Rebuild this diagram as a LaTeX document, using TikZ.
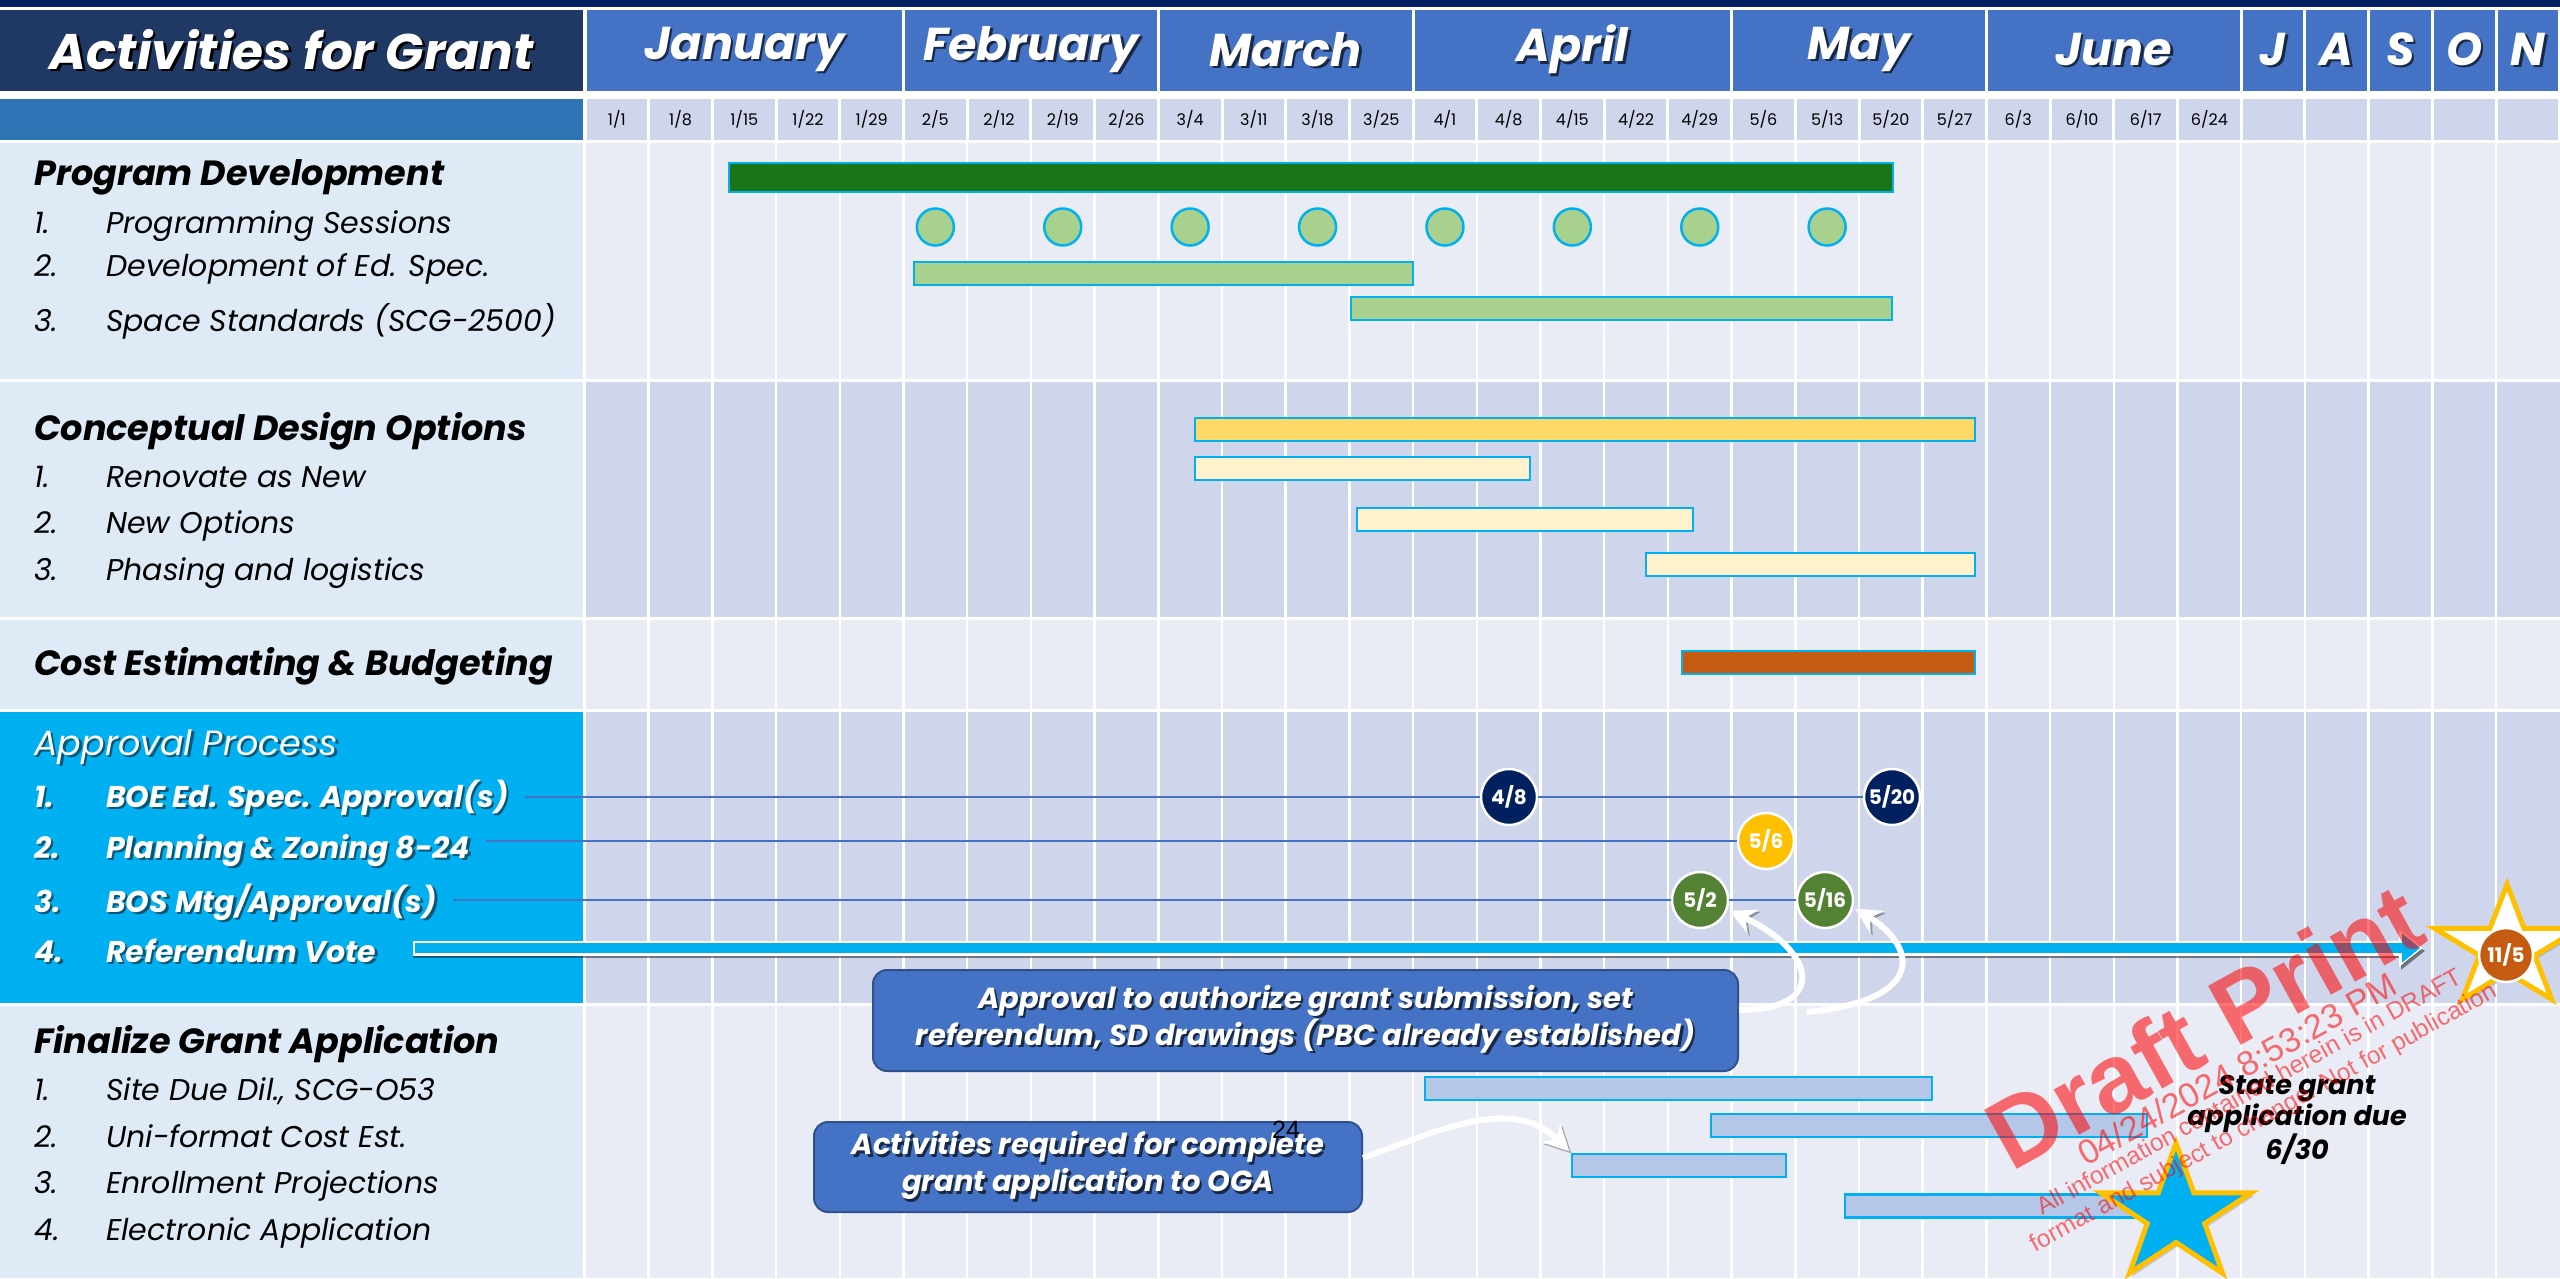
\documentclass[tikz,border=0pt]{standalone}
\usepackage{fontspec}
\setmainfont{Poppins}
\newfontfamily\arialfont{Liberation Sans}
\usepackage{tikz}
\usetikzlibrary{positioning, arrows.meta, shapes.geometric, shadows}
\usepackage{xcolor}
\definecolor{navytop}{HTML}{002060}
\definecolor{titleblue}{HTML}{1F3864}
\definecolor{monthblue}{HTML}{4472C4}
\definecolor{daterow}{HTML}{2E75B6}
\definecolor{cellblue}{HTML}{CFD5EA}
\definecolor{cellpale}{HTML}{E9EBF5}
\definecolor{labelpale}{HTML}{DEEAF6}
\definecolor{approvecyan}{HTML}{00B0F0}
\definecolor{darkgreen}{HTML}{187619}
\definecolor{lightgreen}{HTML}{A9D18E}
\definecolor{goldbar}{HTML}{FFD966}
\definecolor{paleyellow}{HTML}{FFF2CC}
\definecolor{rust}{HTML}{C55A11}
\definecolor{paleblue}{HTML}{B4C7E7}
\definecolor{gold}{HTML}{FFC000}
\definecolor{mtggreen}{HTML}{548235}
\definecolor{callborder}{HTML}{2F528F}
\colorlet{monthshade}{monthblue!35!black}
\colorlet{cyanshade}{approvecyan!50!black}
\newcommand{\setpx}[2]{\fontsize{#1}{#2}\selectfont}
\newcommand{\listno}[1]{\makebox[72pt][l]{#1}}
\newcommand{\shadowed}[2]{\leavevmode\rlap{\hspace{2.5pt}\raisebox{-2.5pt}{\color{#1}#2}}#2}

\begin{document}
\begin{tikzpicture}[x=1pt, y=-1pt, every node/.style={inner sep=0pt}]
  \tikzstyle{titlebox} = [rectangle, fill=titleblue, minimum width=583, minimum height=81, text=white, font=\setpx{50}{60}\bfseries\itshape]
  \tikzstyle{monthbox} = [rectangle, fill=monthblue, minimum height=81, text=white, font=\setpx{46}{55}\bfseries\itshape]
  \tikzstyle{datecell} = [rectangle, fill=cellblue, minimum width=60.7, minimum height=41, font=\setpx{16}{19}]
  \tikzstyle{sechead} = [anchor=base west, font=\setpx{35}{42}\bfseries\itshape]
  \tikzstyle{listitem} = [anchor=base west, font=\setpx{30}{36}\itshape]
  \tikzstyle{approvehead} = [anchor=base west, text=white, font=\setpx{35}{42}\itshape]
  \tikzstyle{approveitem} = [anchor=base west, text=white, font=\setpx{30}{36}\bfseries\itshape]
  \tikzstyle{ganttbar} = [rectangle, draw=approvecyan, line width=2.5pt, minimum height=23]
  \tikzstyle{sessiondot} = [circle, fill=lightgreen, draw=approvecyan, line width=2.5pt, minimum size=37]
  \tikzstyle{milestone} = [circle, draw=white, line width=2.5pt, minimum size=56, text=white, font=\setpx{20}{24}\bfseries]
  \tikzstyle{leadline} = [draw=monthblue, line width=1.5pt, shorten <=16pt]
  \tikzstyle{tieline} = [draw=monthblue, line width=1.5pt]
  \tikzstyle{bigstar} = [star, star points=5, star point ratio=2.618, draw=gold, line width=5pt, drop shadow={opacity=0.35, shadow xshift=3pt, shadow yshift=-3pt}]
  \tikzstyle{callbox} = [rectangle, rounded corners=14pt, fill=monthblue, draw=callborder, line width=2pt, text=white, align=center, font=\setpx{29}{37}\bfseries\itshape]
  \tikzstyle{whitearrow} = [white, line width=6pt, shorten >=2pt, -{Stealth[length=26pt, width=26pt]}, preaction={draw=black, opacity=0.3, transform canvas={shift={(2,2)}}}]
  \tikzstyle{draftmark} = [text=red, text opacity=0.55, rotate=29, align=center]

  \fill [white] (0,0) rectangle (2560,1278);
  \useasboundingbox (0,0) rectangle (2560,1278);

  \fill [navytop] (0,0) rectangle (2560,7);
  \node (title) [titlebox] at (291.5,50.5) {\shadowed{black}{Activities for Grant}};
  \foreach \mname/\a/\b in {January/0/5, February/5/9, March/9/13, April/13/18, May/18/22, June/22/26, J/26/27, A/27/28, S/28/29, O/29/30, N/30/31}
    \node (mon\a) [monthbox, minimum width={(\b-\a)*63.7-3}] at ({585+(\a+\b)/2*63.7},50.5) {\shadowed{monthshade}{\mname}};

  \fill [daterow] (0,99) rectangle (583,140);
  \foreach \mo/\dy [count=\i from 0] in {1/1,1/8,1/15,1/22,1/29,2/5,2/12,2/19,2/26,3/4,3/11,3/18,3/25,4/1,4/8,4/15,4/22,4/29,5/6,5/13,5/20,5/27,6/3,6/10,6/17,6/24}
    \node (d\i) [datecell] at ({585+(\i+0.5)*63.7},119.5) {\mo/\dy};
  \foreach \i in {26,...,30}
    \node (d\i) [datecell] at ({585+(\i+0.5)*63.7},119.5) {};

  \fill [labelpale] (0,143) rectangle (583,379);
  \fill [cellpale] (586,143) rectangle (2560,379);
  \fill [labelpale] (0,382) rectangle (583,617);
  \fill [cellblue] (586,382) rectangle (2560,617);
  \fill [labelpale] (0,620) rectangle (583,709);
  \fill [cellpale] (586,620) rectangle (2560,709);
  \fill [approvecyan] (0,712) rectangle (583,1003);
  \fill [cellblue] (586,712) rectangle (2560,1003);
  \fill [labelpale] (0,1006) rectangle (583,1278);
  \fill [cellpale] (586,1006) rectangle (2560,1278);
  \foreach \i in {1,...,30}
    \draw [white, line width=2.5pt] ({585+\i*63.7},143) -- ({585+\i*63.7},1278);

  \node (pdhead) [sechead] at (34,185) {Program Development};
  \node (pd1) [listitem] at (34,233) {\listno{1.}Programming Sessions};
  \node (pd2) [listitem] at (34,276) {\listno{2.}Development of Ed. Spec.};
  \node (pd3) [listitem] at (34,331) {\listno{3.}Space Standards (SCG-2500)};

  \node (cdhead) [sechead] at (34,440) {Conceptual Design Options};
  \node (cd1) [listitem] at (34,487) {\listno{1.}Renovate as New};
  \node (cd2) [listitem] at (34,533) {\listno{2.}New Options};
  \node (cd3) [listitem] at (34,580) {\listno{3.}Phasing and logistics};

  \node (cehead) [sechead] at (34,675) {Cost Estimating \& Budgeting};

  \node (aphead) [approvehead] at (34,755) {\shadowed{cyanshade}{Approval Process}};
  \node (boe) [approveitem] at (34,807) {\shadowed{cyanshade}{\listno{1.}BOE Ed. Spec. Approval(s)}};
  \node (plan) [approveitem] at (34,858) {\shadowed{cyanshade}{\listno{2.}Planning \& Zoning 8-24}};
  \node (bos) [approveitem] at (34,912) {\shadowed{cyanshade}{\listno{3.}BOS Mtg/Approval(s)}};
  \node (refvote) [approveitem] at (34,962) {\shadowed{cyanshade}{\listno{4.}Referendum Vote}};

  \node (fghead) [sechead] at (34,1053) {Finalize Grant Application};
  \node (fg1) [listitem] at (34,1100) {\listno{1.}Site Due Dil., SCG-O53};
  \node (fg2) [listitem] at (34,1147) {\listno{2.}Uni-format Cost Est.};
  \node (fg3) [listitem] at (34,1193) {\listno{3.}Enrollment Projections};
  \node (fg4) [listitem] at (34,1240) {\listno{4.}Electronic Application};

  \node (pdbar) [ganttbar, fill=darkgreen, minimum width=1164, minimum height=29] at (1311,177.5) {};
  \foreach \c [count=\k] in {5,7,...,19}
    \node (ps\k) [sessiondot] at ({585+(\c+0.5)*63.7},227) {};
  \node (edspec) [ganttbar, fill=lightgreen, minimum width=499] at (1163.5,273.5) {};
  \node (space) [ganttbar, fill=lightgreen, minimum width=541] at (1621.5,308.5) {};

  \node (cdbar) [ganttbar, fill=goldbar, minimum width=780] at (1585,429.5) {};
  \node (renovate) [ganttbar, fill=paleyellow, minimum width=335] at (1362.5,468.5) {};
  \node (newopt) [ganttbar, fill=paleyellow, minimum width=336] at (1525,519.5) {};
  \node (phasing) [ganttbar, fill=paleyellow, minimum width=329] at (1810.5,564.5) {};

  \node (costbar) [ganttbar, fill=rust, minimum width=293] at (1828.5,662.5) {};

  \node (sitedd) [ganttbar, fill=paleblue, minimum width=507] at (1678.5,1088.5) {};
  \node (uniform) [ganttbar, fill=paleblue, minimum width=436] at (1929,1125.5) {};
  \node (enroll) [ganttbar, fill=paleblue, minimum width=214] at (1679,1165.5) {};
  \node (eapp) [ganttbar, fill=paleblue, minimum width=295] at (1992.5,1206) {};

  \node (m48) [milestone, fill=navytop] at (1509,797) {4/8};
  \node (m520) [milestone, fill=navytop] at (1892,797) {5/20};
  \node (m56) [milestone, fill=gold] at (1766,841) {5/6};
  \node (m52) [milestone, fill=mtggreen] at (1700,900) {5/2};
  \node (m516) [milestone, fill=mtggreen] at (1825,900) {5/16};
  \draw [leadline] (boe.east |- m48) -- (m48);
  \draw [tieline] (m48) -- (m520);
  \draw [leadline] (plan.east |- m56) -- (m56);
  \draw [leadline] (bos.east |- m52) -- (m52);
  \draw [tieline] (m52) -- (m516);

  \node (vote) [bigstar, fill=white, minimum size=127, xscale=1.2] at (2507,948) {};
  \node (m115) [milestone, fill=rust, minimum size=54] at (2506,955) {11/5};
  \draw [black, opacity=0.45, line width=14pt, shorten <=37pt, shorten >=82pt, -{Triangle[length=24pt, width=36pt]}] ([yshift=-3pt]refvote.east |- vote.center) -- ([yshift=-3pt]vote.center);
  \draw [white, line width=15pt, shorten <=37pt, shorten >=84pt, -{Triangle[length=24pt, width=36pt]}] (refvote.east |- vote.center) -- (vote.center);
  \draw [approvecyan, line width=10pt, shorten <=39pt, shorten >=87pt, -{Triangle[length=18pt, width=28pt]}] (refvote.east |- vote.center) -- (vote.center);

  \node (callappr) [callbox, minimum width=865, minimum height=101] at (1305.5,1020.5) {\shadowed{monthshade}{Approval to authorize grant submission, set}\\\shadowed{monthshade}{referendum, SD drawings (PBC already established)}};
  \node (callact) [callbox, minimum width=548, minimum height=90] at (1088,1167) {\shadowed{monthshade}{Activities required for complete}\\\shadowed{monthshade}{grant application to OGA}};
  \coordinate (tail516) at (1807,1012);
  \draw [whitearrow] ([yshift=10.5pt]callappr.east) .. controls (1830,1010) and (1815,950) .. (m52.-20);
  \draw [whitearrow] (tail516) .. controls (1930,1000) and (1915,945) .. (m516.-15);
  \draw [whitearrow] ([yshift=9pt]callact.east) to[out=20, in=135] (enroll.north west);
  \node (pageno) [font=\arialfont\setpx{25}{30}] at (1286,1130) {24};

  \node (due) [bigstar, fill=approvecyan, minimum size=144, xscale=1.1] at (2176,1215) {};
  \node (stategrant) [align=center, font=\setpx{27}{31.5}\bfseries\itshape] at (2297,1120) {State grant\\application due\\6/30};

  \node (wmdraft) [draftmark, font=\arialfont\setpx{98}{98}\bfseries] at (2204,1026) {Draft Print};
  \node (wmstamp) [draftmark, font=\arialfont\setpx{34.5}{35}] at (2237,1069) {04/24/2024 8:53:23 PM};
  \node (wmnote) [draftmark, font=\arialfont\setpx{24.5}{29}] at (2257,1106) {All information contained herein is in DRAFT\\format and subject to change. Not for publication};
\end{tikzpicture}
\end{document}
